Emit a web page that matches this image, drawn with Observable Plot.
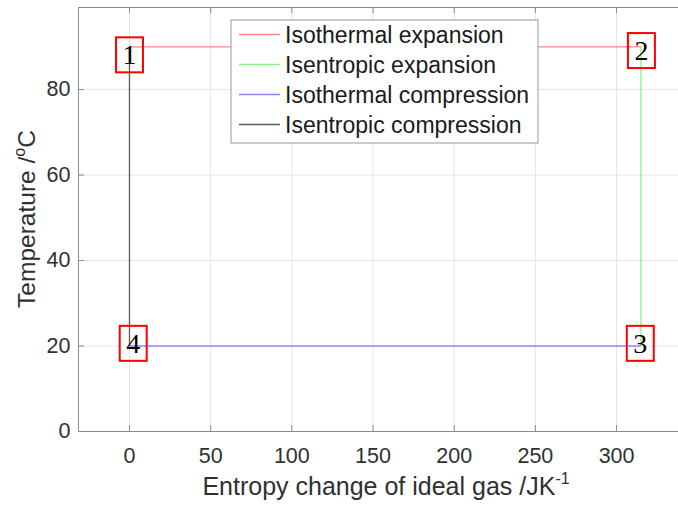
<!DOCTYPE html>
<html>
<head>
<meta charset="utf-8">
<script src="https://cdn.jsdelivr.net/npm/d3@7"></script>
<script src="https://cdn.jsdelivr.net/npm/@observablehq/plot@0.6"></script>
<style>
  html, body { margin: 0; padding: 0; background: #fff; overflow: hidden; }
  #chart { position: relative; width: 678px; height: 505px; overflow: hidden; }
  #chart svg { max-width: none !important; width: 700px; height: 505px !important; display: block; }
</style>
</head>
<body>
<div id="chart"></div>
<script>
// Carnot cycle of an ideal gas on a T–S diagram
const processes = ["Isothermal expansion", "Isentropic expansion", "Isothermal compression", "Isentropic compression"];
const processColors = ["#ff8585", "#8cf08c", "#8a8aff", "#5a5a5a"];

// State points 1 → 2 → 3 → 4 (entropy change in J/K, temperature in °C)
const stateEntropy = [0, 315, 315, 0];
const stateTemp = [90, 90, 20, 20];

// State number labels and where they sit
const stateLabels = ["1", "2", "3", "4"];
const labelEntropy = [0, 315.3, 314.6, 2.3];
const labelTemp = [88.0, 89.0, 20.5, 20.5];

const xTicks = [0, 50, 100, 150, 200, 250, 300];
const yTicks = [0, 20, 40, 60, 80];

// Each process joins state i to state i+1 (closing back to state 1)
const segments = processes.map((name, i) => ({
  name,
  color: processColors[i],
  s1: stateEntropy[i], t1: stateTemp[i],
  s2: stateEntropy[(i + 1) % 4], t2: stateTemp[(i + 1) % 4]
}));

const axisColor = "#8c8c8c";
const textColor = "#303030";
const W = 700, H = 505, mL = 78, mR = 6, mT = 7, mB = 74, tickLen = 6;
const frameW = W - mL - mR, frameH = H - mT - mB;

const plot = Plot.plot({
  width: W,
  height: H,
  marginLeft: mL,
  marginRight: mR,
  marginTop: mT,
  marginBottom: mB,
  style: { fontFamily: "'Liberation Sans', Arial, Helvetica, sans-serif", background: "#fff", color: textColor, overflow: "visible", maxWidth: "none" },
  x: { domain: [-31.4, 348] },
  y: { domain: [0, 99.2] },
  marks: [
    Plot.gridX(xTicks, { stroke: "#e4e4e4", strokeOpacity: 1 }),
    Plot.gridY(yTicks, { stroke: "#e4e4e4", strokeOpacity: 1 }),
    Plot.link(segments, { x1: "s1", y1: "t1", x2: "s2", y2: "t2", stroke: "color", strokeWidth: 1.3 }),
    Plot.frame({ stroke: axisColor }),
    // short inward tick marks on the bottom, top and left edges
    Plot.tickX(xTicks, { x: d => d, insetTop: frameH - tickLen, stroke: axisColor }),
    Plot.tickX(xTicks, { x: d => d, insetBottom: frameH - tickLen, stroke: axisColor }),
    Plot.tickY(yTicks, { y: d => d, insetRight: frameW - tickLen, stroke: axisColor }),
    Plot.axisX(xTicks, { tickSize: 0, tickPadding: 16, fontSize: 21.5, label: null, fill: textColor }),
    Plot.axisY(yTicks, { tickSize: 0, tickPadding: 8, fontSize: 21.5, label: null, fill: textColor }),
    Plot.text(stateLabels, {
      x: (d, i) => labelEntropy[i],
      y: (d, i) => labelTemp[i],
      text: d => d,
      fontFamily: "'Liberation Serif', 'Times New Roman', serif",
      fontSize: 28,
      fill: "#000"
    })
  ]
});

document.getElementById("chart").append(plot);

const svg = d3.select(plot);
const xr = plot.scale("x").range;
const yr = plot.scale("y").range;

// Red boxes around the state numbers
svg.selectAll('g[aria-label="text"] text').each(function () {
  const b = this.getBBox();
  const padX = 6.5, padY = 2;
  const r = d3.select(this.parentNode).append("rect")
    .attr("x", b.x - padX).attr("y", b.y - padY)
    .attr("width", b.width + 2 * padX).attr("height", b.height + 2 * padY)
    .attr("fill", "none").attr("stroke", "#ff0000").attr("stroke-width", 2);
  const tf = this.getAttribute("transform");
  if (tf) r.attr("transform", tf);
});

// Axis titles with superscripts
const xt = svg.append("text")
  .attr("x", (xr[0] + xr[1]) / 2).attr("y", 495)
  .attr("text-anchor", "middle").attr("fill", textColor)
  .style("font-size", "25px");
xt.append("tspan").text("Entropy change of ideal gas /JK");
xt.append("tspan").attr("dy", -11).style("font-size", "16px").text("-1");

const yt = svg.append("text")
  .attr("transform", `translate(35,${(yr[0] + yr[1]) / 2}) rotate(-90)`)
  .attr("text-anchor", "middle").attr("fill", textColor)
  .style("font-size", "24.5px");
yt.append("tspan").text("Temperature /");
yt.append("tspan").attr("dy", -10).style("font-size", "16px").text("o");
yt.append("tspan").attr("dy", 10).text("C");

// Legend box
const legend = svg.append("g").attr("aria-label", "legend").attr("text-anchor", "start");
legend.append("rect")
  .attr("x", 231).attr("y", 20).attr("width", 307).attr("height", 123)
  .attr("fill", "#fff").attr("stroke", "#999").attr("stroke-width", 1);
processes.forEach((name, i) => {
  const y = 34.5 + i * 30;
  legend.append("line")
    .attr("x1", 239).attr("x2", 280).attr("y1", y).attr("y2", y)
    .attr("stroke", processColors[i]).attr("stroke-width", 1.5);
  legend.append("text")
    .attr("x", 285).attr("y", y).attr("dy", "0.35em")
    .attr("text-anchor", "start")
    .attr("fill", "#1a1a1a").style("font-size", "23px")
    .text(name);
});
</script>
</body>
</html>
